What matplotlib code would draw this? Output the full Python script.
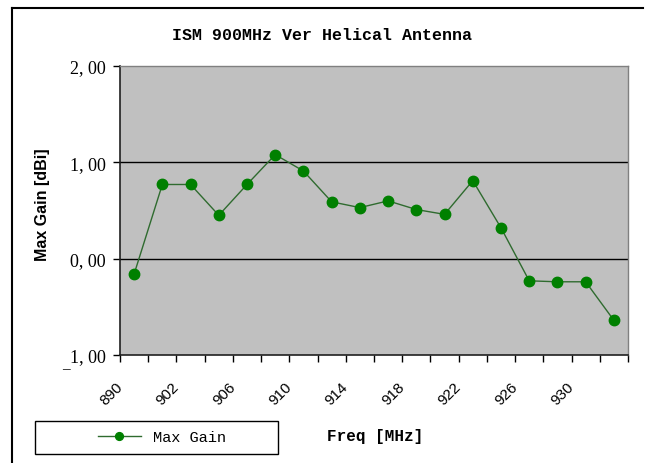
import matplotlib
matplotlib.use("Agg")
import matplotlib.pyplot as plt
import matplotlib.transforms as mtransforms
from matplotlib.patches import Rectangle
from matplotlib.lines import Line2D

# datos
frecuencias = ["890", "900", "902", "904", "906", "908", "910", "912", "914",
               "916", "918", "920", "922", "924", "926", "928", "930", "932"]
ganancia = [-0.16, 0.77, 0.77, 0.45, 0.77, 1.08, 0.91, 0.59, 0.53,
            0.60, 0.51, 0.46, 0.81, 0.32, -0.23, -0.24, -0.24, -0.64]
y_ticks = [-1, 0, 1, 2]
y_etiquetas = ["1, 00", "0, 00", "1, 00", "2, 00"]

W, H = 651, 464
fig = plt.figure(figsize=(W / 100, H / 100), dpi=100)
fig.patch.set_facecolor("white")

# area del grafico
ax = fig.add_axes([120 / W, 1 - 356 / H, 508 / W, 289 / H])
ax.set_facecolor("#c0c0c0")

x = list(range(len(ganancia)))
ax.plot(x, ganancia, color="#2f6b2f", linewidth=1.0, marker="o",
        markersize=7.5, markerfacecolor="#008000", markeredgecolor="#008000",
        zorder=3, label="Max Gain")

ax.set_xlim(-0.5, len(ganancia) - 0.5)
ax.set_ylim(-1, 2)

# lineas de cuadricula en 0 y 1
for yv in [0, 1]:
    ax.axhline(yv, color="black", linewidth=1.0, zorder=2)

# eje y
ax.set_yticks(y_ticks)
ax.set_yticklabels(y_etiquetas, family="Liberation Serif", fontsize=13)
ax.tick_params(axis="y", direction="out", length=5, width=1, pad=5, colors="black")

# eje x: marcas en los limites de categoria, etiquetas cada dos (en minor)
ax.set_xticks([i - 0.5 for i in range(len(ganancia) + 1)])
ax.set_xticklabels([])
ax.tick_params(axis="x", which="major", direction="out", length=5, width=1)
pos_etiquetas = x[::2][:9]
ax.set_xticks(pos_etiquetas, minor=True)
ax.set_xticklabels([frecuencias[i] for i in pos_etiquetas], minor=True,
                   rotation=45, ha="right", va="center", rotation_mode="anchor",
                   family="Liberation Sans", fontsize=11)
ax.tick_params(axis="x", which="minor", length=0, pad=21)
# desplazar etiquetas hacia la izquierda (medio intervalo)
desplaza = mtransforms.ScaledTranslation(-14 / 100, 0, fig.dpi_scale_trans)
for etiqueta in ax.get_xticklabels(minor=True):
    etiqueta.set_transform(etiqueta.get_transform() + desplaza)

for lado in ["left", "bottom"]:
    ax.spines[lado].set_color("#202020")
    ax.spines[lado].set_linewidth(1.2)
for lado in ["top", "right"]:
    ax.spines[lado].set_color("#808080")
    ax.spines[lado].set_linewidth(1.0)

# signo menos desplazado
fig.text(66 / W, 1 - 370 / H, "\u2013", family="Liberation Serif", fontsize=11,
         ha="center", va="center")

# titulo
fig.text(322 / W, 1 - 35 / H, "ISM 900MHz Ver Helical Antenna",
         family="Liberation Mono", fontweight="bold", fontsize=12,
         ha="center", va="center")

# etiqueta eje y
fig.text(42 / W, 1 - 205 / H, "Max Gain [dBi]", family="Liberation Sans",
         fontweight="bold", fontsize=11.5, rotation=90, ha="center", va="center")

# etiqueta eje x
fig.text(375 / W, 1 - 437 / H, "Freq [MHz]", family="Liberation Mono",
         fontweight="bold", fontsize=11.5, ha="center", va="center")

# caja de la leyenda
fig.patches.append(Rectangle((35 / W, 1 - 455 / H), 243 / W, 33 / H,
                             transform=fig.transFigure, fill=False,
                             edgecolor="black", linewidth=1.0))
handles, labels = ax.get_legend_handles_labels()
fig.legend(handles, labels, loc="center", bbox_to_anchor=(162 / W, 1 - 438 / H),
           frameon=False, handlelength=2.8, markerscale=0.75,
           prop={"family": "Liberation Mono", "size": 11})

# borde exterior (izquierda y arriba)
fig.add_artist(Line2D([12 / W, 12 / W], [0, 1 - 9 / H], transform=fig.transFigure,
                      color="black", linewidth=1.5))
fig.add_artist(Line2D([12 / W, 643 / W], [1 - 9 / H, 1 - 9 / H],
                      transform=fig.transFigure, color="black", linewidth=1.5))

fig.savefig("out.png", dpi=100)
